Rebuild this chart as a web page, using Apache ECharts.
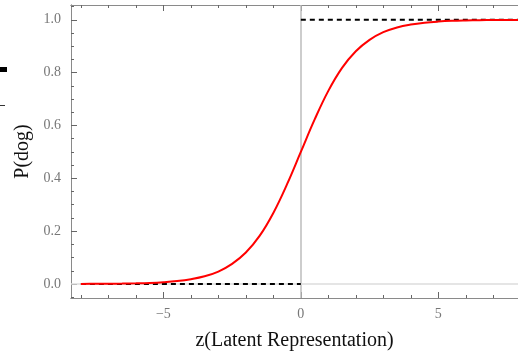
<!DOCTYPE html>
<html>
<head>
<meta charset="utf-8">
<script src="https://cdn.jsdelivr.net/npm/echarts@6/dist/echarts.min.js"></script>
<style>
  html, body { margin: 0; padding: 0; background: #fff; }
  #chart { width: 518px; height: 356px; }
</style>
</head>
<body>
<div id="chart"></div>
<script>
// sigmoid curve, every half unit
const zVals = [-8, -7.5, -7, -6.5, -6, -5.5, -5, -4.5, -4, -3.5, -3, -2.5, -2, -1.5, -1, -0.5, 0,
               0.5, 1, 1.5, 2, 2.5, 3, 3.5, 4, 4.5, 5, 5.5, 6, 6.5, 7, 7.5, 8];
const pVals = [0.0003, 0.0006, 0.0009, 0.0015, 0.0025, 0.004, 0.0067, 0.011, 0.018, 0.029, 0.047,
               0.076, 0.119, 0.182, 0.269, 0.378, 0.5, 0.622, 0.731, 0.818, 0.881, 0.924, 0.953,
               0.971, 0.982, 0.989, 0.9933, 0.996, 0.9975, 0.9985, 0.9991, 0.9994, 0.9997];
// dashed asymptotes
const lowDash = [[-8, 0], [0, 0]];
const highDash = [[0, 1], [8, 1]];
// ticks
const xMajor = [-5, 0, 5];
const xMinor = [-8, -7, -6, -5, -4, -3, -2, -1, 0, 1, 2, 3, 4, 5, 6, 7];
const yMajor = [0, 0.2, 0.4, 0.6, 0.8, 1.0];
const yMinor = [-0.05, 0, 0.05, 0.1, 0.15, 0.2, 0.25, 0.3, 0.35, 0.4, 0.45, 0.5,
                0.55, 0.6, 0.65, 0.7, 0.75, 0.8, 0.85, 0.9, 0.95, 1.0, 1.05];

const X_MIN = -8.36, X_MAX = 7.9, Y_MIN = -0.053, Y_MAX = 1.056;
const frame = '#8a8a8a', tickCol = '#666';
const serif = 'Liberation Serif';

function fmtX(v) { return v < 0 ? '\u2212' + Math.abs(v) : String(v); }

function xAx(pos, vals, len, showLabel) {
  return {
    type: 'value', position: pos, min: X_MIN, max: X_MAX,
    axisLine: { show: true, onZero: false, lineStyle: { color: frame, width: 1 } },
    splitLine: { show: false },
    axisTick: { show: true, inside: true, length: len, customValues: vals, lineStyle: { color: tickCol, width: 1 } },
    axisLabel: { show: showLabel, customValues: vals, formatter: fmtX, color: '#777', fontFamily: serif, fontSize: 14, margin: 9 }
  };
}
function yAx(vals, len, showLabel) {
  return {
    type: 'value', position: 'left', min: Y_MIN, max: Y_MAX,
    axisLine: { show: true, onZero: false, lineStyle: { color: frame, width: 1 } },
    splitLine: { show: false },
    axisTick: { show: true, inside: true, length: len, customValues: vals, lineStyle: { color: tickCol, width: 1 } },
    axisLabel: { show: showLabel, customValues: vals, formatter: v => v.toFixed(1), color: '#777', fontFamily: serif, fontSize: 14, margin: 10 }
  };
}

const xAxes = [xAx('bottom', xMinor, 3, false), xAx('bottom', xMajor, 6, true), xAx('top', xMinor, 3, false), xAx('top', xMajor, 6, false)];
xAxes[1].name = 'z(Latent Representation)';
xAxes[1].nameLocation = 'middle';
xAxes[1].nameGap = 33;
xAxes[1].nameTextStyle = { color: '#111', fontFamily: serif, fontSize: 20 };

const yAxes = [yAx(yMinor, 3, false), yAx(yMajor, 6, true)];
yAxes[1].name = 'P(dog)';
yAxes[1].nameLocation = 'middle';
yAxes[1].nameGap = 33;
yAxes[1].nameTextStyle = { color: '#111', fontFamily: serif, fontSize: 20 };

const chart = echarts.init(document.getElementById('chart'), null, { renderer: 'canvas' });
chart.setOption({
  animation: false,
  backgroundColor: '#fff',
  grid: { left: 71, right: 0, top: 5, bottom: 53, containLabel: false },
  xAxis: xAxes,
  yAxis: yAxes,
  graphic: [
    { type: 'rect', shape: { x: 0, y: 67, width: 7, height: 5 }, style: { fill: '#000' } },
    { type: 'rect', shape: { x: 0, y: 105, width: 5, height: 1 }, style: { fill: '#333' } }
  ],
  series: [
    {
      type: 'line', xAxisIndex: 0, yAxisIndex: 0, data: [], silent: true, z: 1,
      markLine: {
        symbol: 'none', silent: true, label: { show: false },
        data: [
          { xAxis: 0, lineStyle: { color: '#bdbdbd', width: 1.5, type: 'solid' } },
          { yAxis: 0, lineStyle: { color: '#dcdcdc', width: 1.5, type: 'solid' } }
        ]
      }
    },
    {
      type: 'line', xAxisIndex: 0, yAxisIndex: 0, data: lowDash, showSymbol: false, z: 5,
      lineStyle: { color: '#000', width: 2, type: [5, 4] }
    },
    {
      type: 'line', xAxisIndex: 0, yAxisIndex: 0, data: highDash, showSymbol: false, z: 5,
      lineStyle: { color: '#000', width: 2, type: [5, 4] }
    },
    {
      type: 'line', xAxisIndex: 0, yAxisIndex: 0, z: 6,
      data: zVals.map((z, i) => [z, pVals[i]]),
      showSymbol: false, smooth: 0.4,
      lineStyle: { color: '#ff0000', width: 2 }
    }
  ]
});
</script>
</body>
</html>
